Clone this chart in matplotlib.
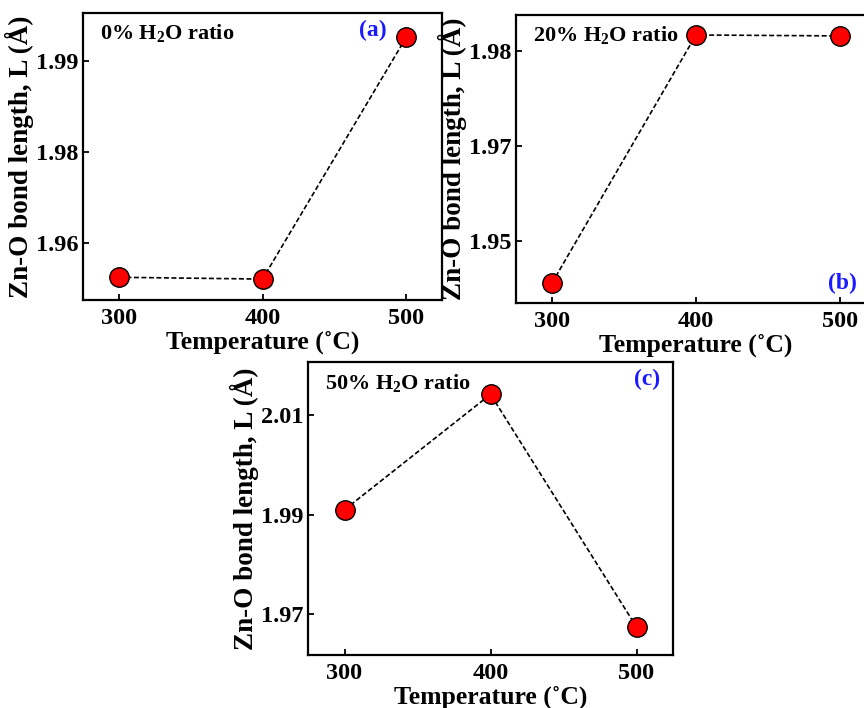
import matplotlib.pyplot as plt
from matplotlib.ticker import FixedLocator, FixedFormatter

plt.rcParams['font.family'] = ['Liberation Serif', 'DejaVu Serif']
plt.rcParams['font.weight'] = 'bold'
plt.rcParams['mathtext.fontset'] = 'custom'
plt.rcParams['mathtext.rm'] = 'Liberation Serif:bold'
plt.rcParams['mathtext.default'] = 'rm'

temps = [300, 400, 500]

# bond lengths for each water ratio
bond_0 = [1.9662, 1.9660, 1.9926]
bond_20 = [1.9556, 1.9817, 1.9816]
bond_50 = [1.9910, 2.0142, 1.9674]

ticks_0 = [1.97, 1.98, 1.99]
labels_0 = ['1.96', '1.98', '1.99']
ticks_20 = [1.96, 1.97, 1.98]
labels_20 = ['1.95', '1.97', '1.98']
ticks_50 = [1.97, 1.99, 2.01]
labels_50 = ['1.97', '1.99', '2.01']

fig = plt.figure(figsize=(8.64, 7.08), dpi=100)

panels = [
    ([0.0961, 0.5763, 0.4155, 0.4054], bond_0, ticks_0, labels_0, (1.9637, 1.9953),
     '0% H$_2$O ratio', '(a)', (0.808, 0.94)),
    ([0.5972, 0.5720, 0.4167, 0.4068], bond_20, ticks_20, labels_20, (1.9535, 1.9838),
     '20% H$_2$O ratio', '(b)', (0.906, 0.069)),
    ([0.3565, 0.0749, 0.4225, 0.4138], bond_50, ticks_50, labels_50, (1.9618, 2.0207),
     '50% H$_2$O ratio', '(c)', (0.93, 0.942)),
]

for rect, vals, ticks, labels, ylim, title, tag, tag_xy in panels:
    ax = fig.add_axes(rect)
    ax.plot(temps, vals, color='black', lw=1.2, ls=(0, (3, 1.5)),
            marker='o', ms=14, mfc='#ff0000', mec='black', mew=1.0)
    ax.set_xlim(275, 525)
    ax.set_ylim(*ylim)
    ax.set_xticks(temps)
    ax.yaxis.set_major_locator(FixedLocator(ticks))
    ax.yaxis.set_major_formatter(FixedFormatter(labels))
    ax.tick_params(direction='in', length=4, width=1.3, labelsize=17.5, pad=3)
    ax.tick_params(axis='x', pad=6)
    for s in ax.spines.values():
        s.set_linewidth(1.6)
    ax.set_xlabel('Temperature (˚C)', fontsize=18.5, fontweight='bold', labelpad=1)
    ax.set_ylabel('Zn-O bond length, L (Å)', fontsize=19.5, fontweight='bold', labelpad=2)
    ax.text(0.046, 0.93, title, transform=ax.transAxes, fontsize=16,
            fontweight='bold', va='center', ha='left')
    ax.text(tag_xy[0], tag_xy[1], tag, transform=ax.transAxes, fontsize=17,
            fontweight='bold', color='#1a1aff', va='center', ha='center')

fig.savefig('out.png', dpi=100)
